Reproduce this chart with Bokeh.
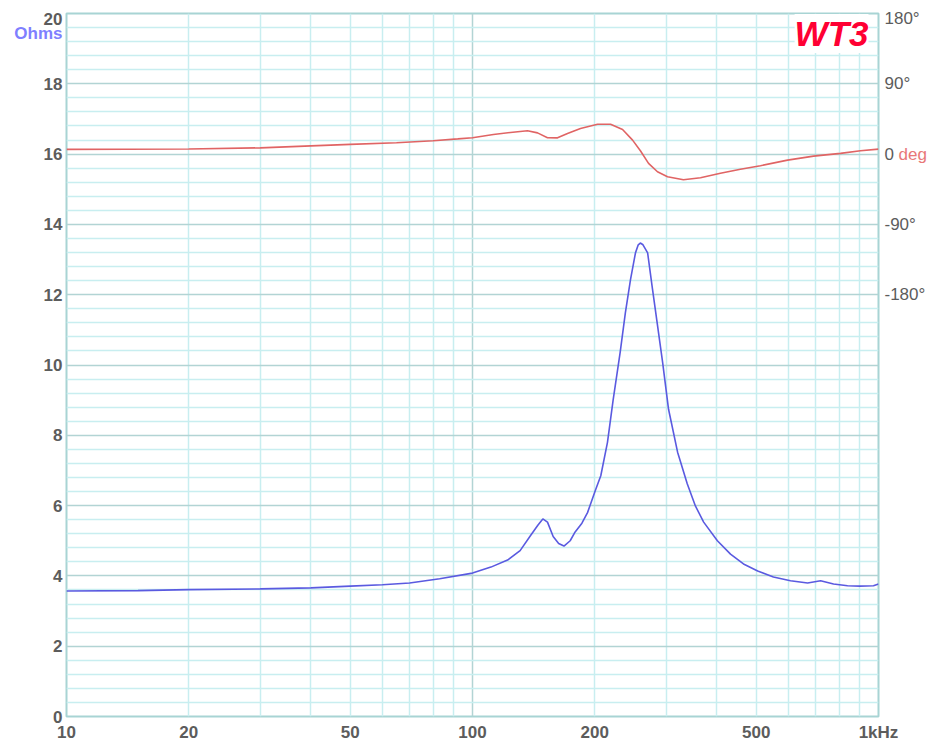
from bokeh.plotting import figure
from bokeh.models import (Range1d, LinearAxis, FixedTicker, Label)
from bokeh.core.properties import value
from bokeh.embed import file_html
from bokeh.resources import INLINE

# ---- data ----
imp_freq = [10, 15, 20, 30, 40, 50, 60, 70, 83, 100, 111, 122, 131, 139, 145, 149,
            153, 158, 163, 168, 174, 179, 186, 192, 201, 207, 215, 222, 231, 238,
            245, 252, 256, 259, 263, 270, 277, 285, 294, 304, 320, 338, 354, 371,
            401, 432, 465, 504, 551, 607, 669, 720, 775, 839, 900, 972, 1000]
imp_ohm = [3.57, 3.58, 3.61, 3.63, 3.66, 3.71, 3.75, 3.80, 3.92, 4.08, 4.25, 4.45,
           4.72, 5.15, 5.45, 5.62, 5.53, 5.12, 4.92, 4.85, 5.0, 5.25, 5.5, 5.8,
           6.45, 6.85, 7.8, 9.0, 10.35, 11.49, 12.43, 13.19, 13.42, 13.47, 13.42,
           13.19, 12.23, 11.2, 10.07, 8.74, 7.52, 6.62, 5.99, 5.53, 5.0, 4.62, 4.34,
           4.14, 3.97, 3.86, 3.80, 3.86, 3.77, 3.72, 3.71, 3.72, 3.77]

ph_freq = [10, 20, 30, 40, 50, 65, 80, 92, 100, 112.6, 124, 136.6, 144.6, 153, 162,
           171.4, 184.5, 203.2, 218.8, 234.2, 247.9, 259.4, 271.4, 285.5, 302.2,
           330.8, 364.4, 408, 457, 512, 597, 692, 806, 903, 1000]
ph_deg = [6, 6.5, 8, 10.5, 12.5, 14.5, 17, 19.5, 21, 25, 27.7, 29.8, 27.2, 21, 20.8,
          26.4, 32.8, 38.3, 38.3, 31.5, 17.9, 4, -11.9, -22.6, -29, -32.8, -30.3,
          -24.6, -19.5, -14.9, -7.7, -2.6, 0.9, 4.2, 6.4]

x_ticks = [10, 20, 50, 100, 200, 500, 1000]
x_labels = {10: "10", 20: "20", 50: "50", 100: "100", 200: "200", 500: "500", 1000: "1kHz"}
y_ticks = [0, 2, 4, 6, 8, 10, 12, 14, 16, 18, 20]
ph_ticks = [180, 90, 0, -90, -180]
ph_labels = {180: "", 90: "90°", 0: "0", -90: "-90°", -180: "-180°"}

GRID_MINOR = "#c8eef0"
GRID_MAJOR = "#b2d4d4"
TICK_COLOR = "#5c5c5c"
FONT = "Liberation Sans"
FS = "17px"

p = figure(width=934, height=744, x_axis_type="log",
           x_range=Range1d(10, 1000), y_range=Range1d(0, 20),
           output_backend="svg", toolbar_location=None,
           min_border_left=66, min_border_right=56,
           min_border_top=13, min_border_bottom=26)
p.extra_y_ranges = {"phase": Range1d(-720, 180)}

p.background_fill_color = "white"
p.border_fill_color = "white"
p.outline_line_color = "#a8d4d4"
p.outline_line_width = 2

# grids
minor_x = [v * m for m in (10, 100) for v in range(1, 10)]
minor_x = [v for v in minor_x if v not in (10, 100, 1000)]
p.xgrid.ticker = FixedTicker(ticks=[100], minor_ticks=minor_x)
p.xgrid.grid_line_color = GRID_MAJOR
p.xgrid.grid_line_width = 1.5
p.xgrid.minor_grid_line_color = GRID_MINOR
p.xgrid.minor_grid_line_width = 1.5

minor_y = [round(i * 0.4, 2) for i in range(1, 50) if i % 5 != 0]
p.ygrid.ticker = FixedTicker(ticks=y_ticks, minor_ticks=minor_y)
p.ygrid.grid_line_color = GRID_MAJOR
p.ygrid.grid_line_width = 1.5
p.ygrid.minor_grid_line_color = GRID_MINOR
p.ygrid.minor_grid_line_width = 1.5

# axes
xa = p.xaxis[0]
xa.ticker = FixedTicker(ticks=x_ticks)
xa.major_label_overrides = x_labels
ya = p.yaxis[0]
ya.ticker = FixedTicker(ticks=y_ticks)
ya.major_label_overrides = {20: ""}

ra = LinearAxis(y_range_name="phase", ticker=FixedTicker(ticks=ph_ticks),
                major_label_overrides=ph_labels)
p.add_layout(ra, "right")

for ax in (xa, ya, ra):
    ax.axis_line_color = None
    ax.major_tick_line_color = None
    ax.minor_tick_line_color = None
    ax.major_tick_out = 0
    ax.major_tick_in = 0
    ax.major_label_text_font = FONT
    ax.major_label_text_font_size = FS
    ax.major_label_text_color = TICK_COLOR
xa.major_label_text_font_style = "bold"
ya.major_label_text_font_style = "bold"
ra.major_label_text_font_style = "normal"
xa.major_label_standoff = 6
ya.major_label_standoff = 4
ra.major_label_standoff = 6

# curves
p.line(ph_freq, ph_deg, y_range_name="phase", line_color="#e06464", line_width=1.6)
p.line(imp_freq, imp_ohm, line_color="#5a5ae0", line_width=1.6)

# texts outside the frame: text glyphs at overlay level are not clipped
common = dict(text_font=value(FONT), text_font_size=FS, text_baseline="middle",
              level="overlay")
p.text(x=[10], y=[20], text=["20"], x_offset=-4, y_offset=5, text_align="right",
       text_font_style="bold", text_color=TICK_COLOR, **common)
p.text(x=[10], y=[20], text=["Ohms"], x_offset=-4, y_offset=20, text_align="right",
       text_font_style="bold", text_color="#7f7fff", **common)
p.text(x=[1000], y=[180], text=["180°"], x_offset=6, y_offset=5, text_align="left",
       text_color=TICK_COLOR, y_range_name="phase", **common)
p.text(x=[1000], y=[0], text=["deg"], x_offset=20, y_offset=0, text_align="left",
       text_color="#e87878", y_range_name="phase", **common)

p.add_layout(Label(x=1000, y=20, x_offset=-10, y_offset=-20, text="WT3",
                   text_align="right", text_baseline="middle", text_font=FONT,
                   text_font_size="35px", text_font_style="bold italic",
                   text_color="#ff0033", background_fill_color="white",
                   background_fill_alpha=1.0))

open("out.html", "w").write(file_html(p, INLINE))
